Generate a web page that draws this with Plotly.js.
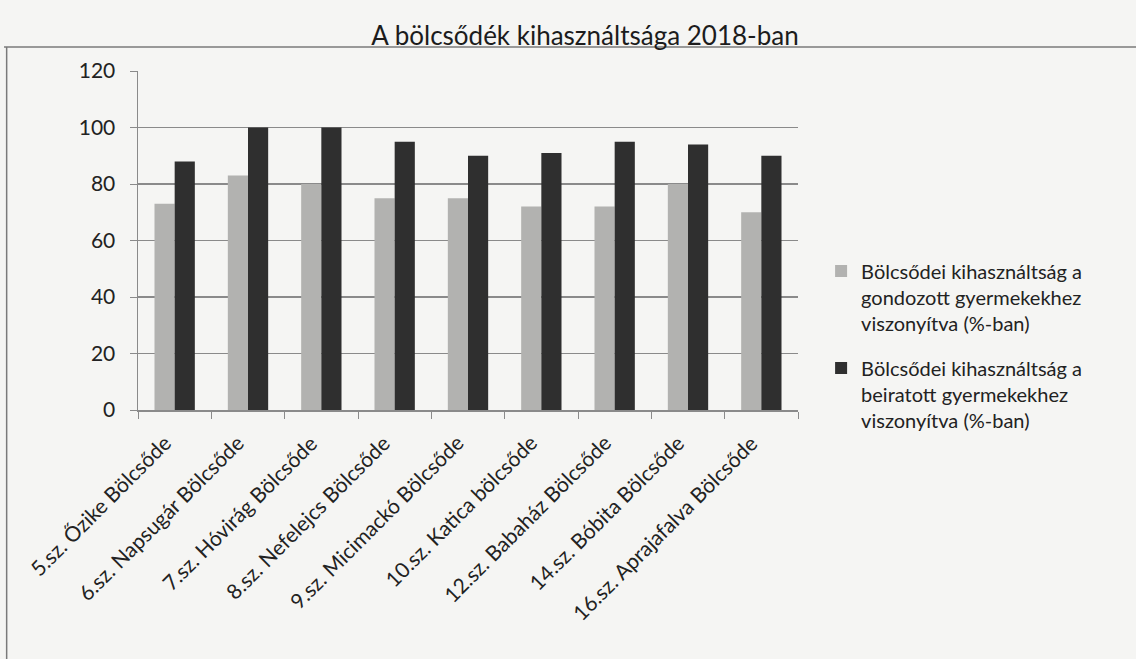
<!DOCTYPE html>
<html>
<head>
<meta charset="utf-8">
<script src="https://cdn.plot.ly/plotly-3.0.1.min.js"></script>
<style>html,body{margin:0;padding:0;background:#f5f5f3;}#chart{width:1136px;height:659px;}</style>
</head>
<body>
<div id="chart"></div>
<script>
const categories = [
  "5.sz. Őzike Bölcsőde",
  "6.sz. Napsugár Bölcsőde",
  "7.sz. Hóvirág Bölcsőde",
  "8.sz. Nefelejcs Bölcsőde",
  "9.sz. Micimackó Bölcsőde",
  "10.sz. Katica bölcsőde",
  "12.sz. Babaház Bölcsőde",
  "14.sz. Bóbita Bölcsőde",
  "16.sz. Aprajafalva Bölcsőde"
];
const gondozott = [73, 83, 80, 75, 75, 72, 72, 80, 70];
const beiratott = [88, 100, 100, 95, 90, 91, 95, 94, 90];
const seriesNames = [
  "Bölcsődei kihasználtság a<br>gondozott gyermekekhez<br>viszonyítva (%-ban)",
  "Bölcsődei kihasználtság a<br>beiratott gyermekekhez<br>viszonyítva (%-ban)"
];
const yTicks = [0, 20, 40, 60, 80, 100, 120];
const titleText = "A bölcsődék kihasználtsága 2018-ban";

const font = "Lato, 'Open Sans', sans-serif";
const textColor = "#222222";
const data = [
  {type: "bar", x: categories, y: gondozott, name: seriesNames[0], legendgroup: "a",
   marker: {color: "#b2b2b0"}},
  {type: "bar", x: categories, y: beiratott, name: seriesNames[1], legendgroup: "b",
   marker: {color: "#2f2f2f"}}
];
const labelAnnotations = categories.map((c, i) => ({
  x: i, y: 0, xref: "x", yref: "y", text: c, showarrow: false,
  textangle: -45, xanchor: "right", yanchor: "top", xshift: 3, yshift: -17,
  font: {family: font, size: 21, color: textColor}
}));
const layout = {
  width: 1136, height: 659,
  paper_bgcolor: "#f5f5f3", plot_bgcolor: "rgba(0,0,0,0)",
  font: {family: font, size: 20, color: textColor},
  margin: {l: 138, r: 338, t: 71, b: 249, autoexpand: false},
  title: {text: titleText, font: {family: font, size: 26, color: "#1c1c1c"},
          xref: "container", x: 0.515, xanchor: "center",
          yref: "container", y: 0.945, yanchor: "middle"},
  barmode: "group", bargap: 0.45, bargroupgap: 0,
  showlegend: true,
  legend: {x: 1.035, xanchor: "left", y: 0.19, yanchor: "middle", valign: "top",
           traceorder: "grouped", tracegroupgap: 16,
           font: {family: font, size: 20, color: textColor},
           bgcolor: "rgba(0,0,0,0)", itemwidth: 30},
  xaxis: {type: "category", range: [-0.5, categories.length - 0.5], showticklabels: false, showgrid: false,
          showline: true, linecolor: "#8a8a8a", linewidth: 1.5,
          ticks: "outside", tickson: "boundaries", ticklen: 7, tickcolor: "#8a8a8a"},
  yaxis: {range: [0, 120], tickvals: yTicks, showgrid: true, gridcolor: "#8a8a8a", gridwidth: 1.2,
          showline: true, linecolor: "#8a8a8a", linewidth: 1.5, zeroline: false,
          ticks: "outside", ticklen: 7, tickcolor: "#8a8a8a", ticklabelstandoff: 10,
          tickfont: {family: font, size: 21, color: textColor}},
  annotations: labelAnnotations,
  shapes: [
    {type: "line", xref: "paper", yref: "paper", x0: -0.203, x1: 1.52, y0: 1.071, y1: 1.071,
     line: {color: "#7a7a7a", width: 1.5}},
    {type: "line", xref: "paper", yref: "paper", x0: -0.199, x1: -0.199, y0: 1.071, y1: -0.8,
     line: {color: "#7a7a7a", width: 1.5}}
  ]
};
Plotly.newPlot("chart", data, layout, {displayModeBar: false, staticPlot: true});
</script>
</body>
</html>
